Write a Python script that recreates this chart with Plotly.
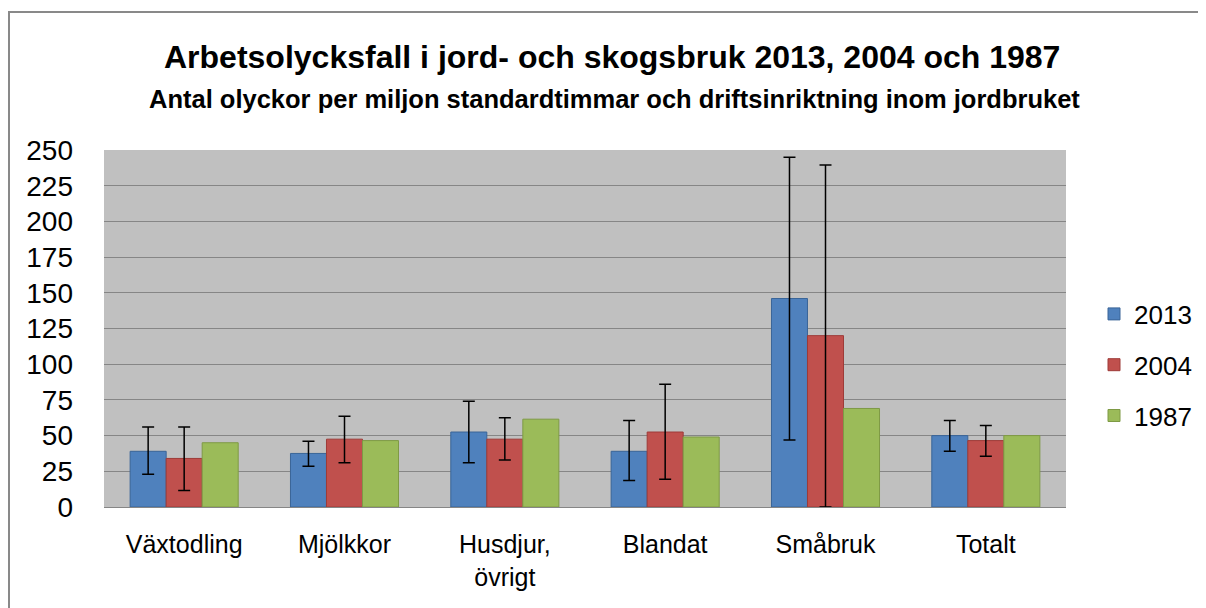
import plotly.graph_objects as go

categories = ["Växtodling", "Mjölkkor", "Husdjur,<br>övrigt", "Blandat", "Småbruk", "Totalt"]
years = ["2013", "2004", "1987"]

values_2013 = [39, 37.5, 52.5, 39, 146, 50]
values_2004 = [34, 47.5, 47.5, 52.5, 120, 46.5]
values_1987 = [45, 46.5, 61.5, 49, 69, 50]

upper_2013 = [56, 46, 74, 60.5, 245, 60.5]
lower_2013 = [23, 28.5, 31, 18.5, 47, 39]
upper_2004 = [56, 63.5, 62.5, 86, 239.5, 57]
lower_2004 = [11.5, 31, 33, 19.5, 0, 35.5]

title_text = "Arbetsolycksfall i jord- och skogsbruk 2013, 2004 och 1987"
subtitle_text = "Antal olyckor per miljon standardtimmar och driftsinriktning inom jordbruket"

fill_colors = ["#4F81BD", "#C0504D", "#9BBB59"]
line_colors = ["#3A6598", "#9E3B38", "#7E9A45"]

series = [
    (years[0], values_2013, upper_2013, lower_2013),
    (years[1], values_2004, upper_2004, lower_2004),
    (years[2], values_1987, None, None),
]

FONT = "Liberation Sans"

# page has an 8px body margin; figure is sized/offset to compensate
W, H = 1198, 600
L, R, T, B = 96, 140, 142, 101
PW, PH = W - L - R, H - T - B

fig = go.Figure()
for i, (name, vals, up, lo) in enumerate(series):
    kw = {}
    if up is not None:
        kw["error_y"] = dict(
            type="data", symmetric=False,
            array=[u - v for u, v in zip(up, vals)],
            arrayminus=[v - l for v, l in zip(vals, lo)],
            color="#000000", thickness=1.5, width=6,
        )
    fig.add_trace(go.Bar(
        x=categories, y=vals, name=name,
        marker=dict(color=fill_colors[i], line=dict(color=line_colors[i], width=1)),
        legendgroup=name,
        **kw,
    ))

fig.update_layout(
    width=W, height=H,
    margin=dict(l=L, r=R, t=T, b=B, autoexpand=False),
    paper_bgcolor="white",
    plot_bgcolor="#C0C0C0",
    barmode="group",
    bargap=0.326,
    bargroupgap=0,
    font=dict(family=FONT, color="#000000"),
    legend=dict(
        xref="container", x=(1094 - 8) / W,
        y=(H - B - (365 - 8)) / PH, xanchor="left", yanchor="middle",
        font=dict(size=26, family=FONT),
        tracegroupgap=14,
        bgcolor="rgba(0,0,0,0)",
    ),
    xaxis=dict(
        showgrid=False, showline=True, linecolor="#868686", linewidth=1,
        tickfont=dict(size=25, family=FONT), ticks="", ticklabelstandoff=15,
    ),
    yaxis=dict(
        range=[0, 250], dtick=25, showgrid=True, gridcolor="#868686", gridwidth=1,
        showline=False, zeroline=False,
        tickfont=dict(size=28, family=FONT), ticks="", ticklabelstandoff=30,
    ),
    annotations=[
        dict(text="<b>" + title_text + "</b>", xref="paper", yref="paper",
             x=(612 - 8 - L) / PW, y=(H - B - (57 - 8)) / PH,
             xanchor="center", yanchor="middle", showarrow=False,
             font=dict(size=32, family=FONT, color="#000000")),
        dict(text="<b>" + subtitle_text + "</b>", xref="paper", yref="paper",
             x=(614 - 8 - L) / PW, y=(H - B - (99 - 8)) / PH,
             xanchor="center", yanchor="middle", showarrow=False,
             font=dict(size=25.5, family=FONT, color="#000000")),
    ],
    shapes=[
        dict(type="rect", xref="paper", yref="paper",
             x0=(1 - L) / PW, x1=1.3, y0=-0.5, y1=(H - B - 4) / PH,
             line=dict(color="#898989", width=2), fillcolor="rgba(0,0,0,0)", layer="below"),
    ],
)

fig.write_html("out.html")
